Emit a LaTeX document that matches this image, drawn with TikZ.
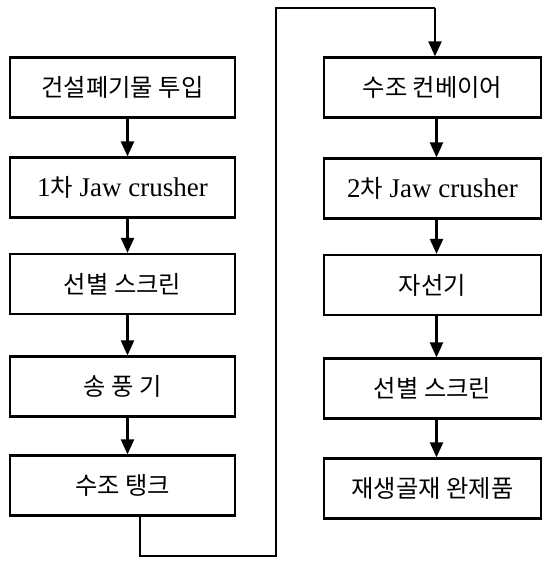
\documentclass[tikz,border=0pt]{standalone}
\usepackage{fontspec}
\setmainfont{Liberation Serif}
\newfontfamily\kr{Noto Sans CJK KR}[Scale=0.9]
\usetikzlibrary{arrows.meta}
\tikzset{
  x=1pt,y=1pt,
  flow/.style={draw=black,line width=2.2pt,inner sep=0pt,font=\fontsize{27}{31}\selectfont},
  lbox/.style={flow,minimum width=225pt,minimum height=60pt},
  rbox/.style={flow,minimum width=217pt,minimum height=60pt},
  conn/.style={line width=2.2pt,-{Triangle[width=13pt,length=15pt]}},
  wire/.style={line width=2.2pt}
}
\begin{document}
\begin{tikzpicture}
\useasboundingbox (0,0) rectangle (546,-566);
% left column
\node[lbox] (l1) at (122.5,-87.5) {\kr 건설폐기물 투입};
\node[lbox] (l2) at (122.5,-187.5) {1{\kr 차} Jaw crusher};
\node[lbox] (l3) at (122.5,-284) {\kr 선별 스크린};
\node[lbox] (l4) at (122.5,-386.5) {\kr 송 풍 기};
\node[lbox] (l5) at (122.5,-485.5) {\kr 수조 탱크};
% right column
\node[rbox] (r1) at (432.5,-87.5) {\kr 수조 컨베이어};
\node[rbox] (r2) at (432.5,-188.5) {2{\kr 차} Jaw crusher};
\node[rbox] (r3) at (432.5,-285) {\kr 자선기};
\node[rbox] (r4) at (432.5,-388.5) {\kr 선별 스크린};
\node[rbox] (r5) at (432.5,-488.5) {\kr 재생골재 완제품};
% left arrows
\foreach \a/\b in {l1/l2,l2/l3,l3/l4,l4/l5}
  \draw[conn] ([xshift=5pt]\a.south) -- ([xshift=5pt]\b.north);
% right arrows
\foreach \a/\b in {r1/r2,r2/r3,r3/r4,r4/r5}
  \draw[conn] ([xshift=4pt]\a.south) -- ([xshift=4pt]\b.north);
% connector from left bottom to right top
\coordinate (c1) at (140,-556);
\coordinate (c2) at (276,-556);
\coordinate (c3) at (276,-8);
\coordinate (c4) at (435,-8);
\draw[wire] (l5.south -| c1) -- (c1) -- (c2) -- (c3) -- (c4);
\draw[conn] (c4) -- (r1.north -| c4);
\end{tikzpicture}
\end{document}
